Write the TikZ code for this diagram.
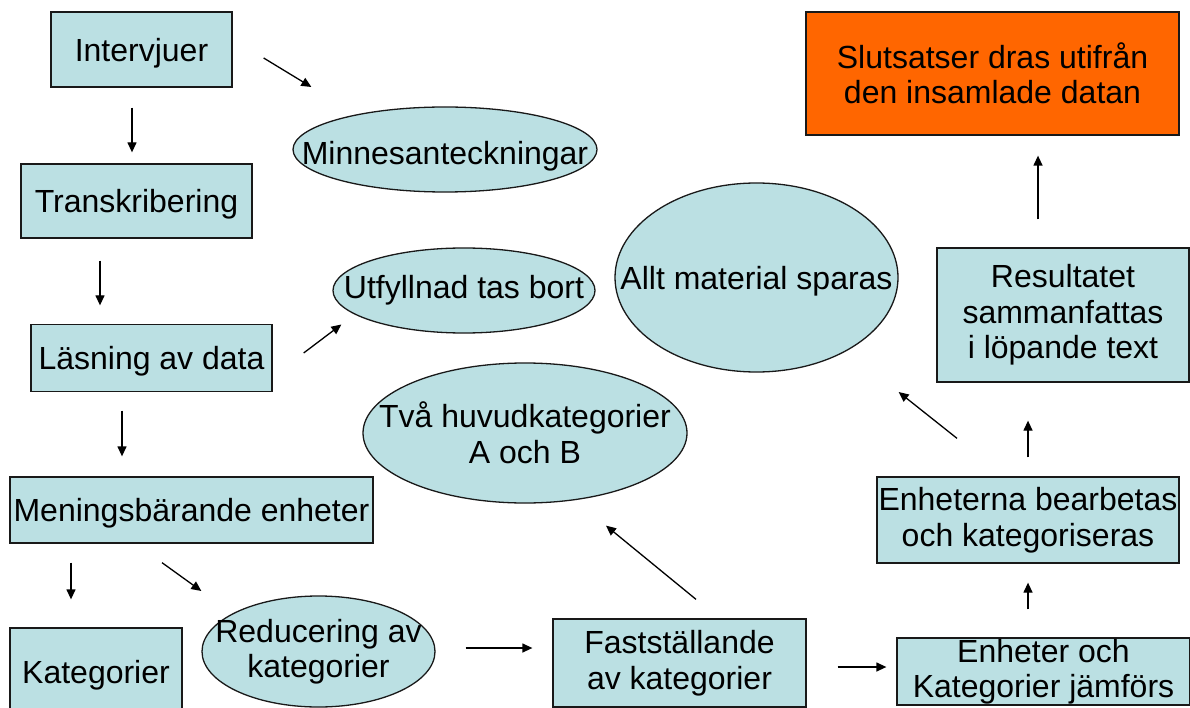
\documentclass[tikz,border=0pt]{standalone}
\usepackage{fontspec}
\setmainfont{Liberation Sans}
\usetikzlibrary{arrows.meta,shapes,calc}

\definecolor{boxblue}{RGB}{187,224,227}
\definecolor{boxorange}{RGB}{255,102,0}

\tikzset{
  box/.style={draw=black!90, fill=boxblue, rectangle, inner sep=0pt, align=center, line width=1.3pt},
  blob/.style={draw=black!90, fill=boxblue, ellipse, inner sep=0pt, align=center, line width=1.3pt},
  flat/.style={text depth=0pt},
  arr/.style={-{Triangle[length=10pt,width=9pt]}, line width=1.3pt},
}

\begin{document}
\begin{tikzpicture}[x=1pt, y=-1pt, font=\fontsize{32}{35.5}\selectfont]
    \useasboundingbox (0,0) rectangle (1190,708);

    % Left column
    \node[box, flat, minimum width=181, minimum height=75] (intv) at (141.5,49.5) {Intervjuer};
    \node[box, flat, minimum width=231, minimum height=74] (trans) at (136.5,201) {Transkribering};
    \node[box, flat, minimum width=241, minimum height=67] (les) at (151.5,358) {Läsning av data};
    \node[box, flat, minimum width=363, minimum height=66] (men) at (191.5,510) {Meningsbärande enheter};
    \node[box, flat, minimum width=172, minimum height=88] (kat) at (96,672) {Kategorier};

    % Ellipses
    \node[blob, text height=37pt, minimum width=304, minimum height=85] (minne) at (445,149.5) {\makebox[0pt]{Minnesanteckningar}};
    \node[blob, minimum width=262, minimum height=85] (utf) at (464,290.5) {\makebox[0pt]{Utfyllnad tas bort}};
    \node[blob, flat, minimum width=283, minimum height=189] (allt) at (756.5,277.5) {\makebox[0pt]{Allt material sparas}};
    \node[blob, minimum width=324, minimum height=140] (tva) at (525,433) {\makebox[0pt]{Två huvudkategorier}\\\makebox[0pt]{A och B}};
    \node[blob, minimum width=233, minimum height=111] (red) at (318.5,651.5) {\makebox[0pt]{Reducering av}\\\makebox[0pt]{kategorier}};

    % Right side
    \node[box, minimum width=253, minimum height=88] (fast) at (679.5,663) {Fastställande\\av kategorier};
    \node[box, minimum width=293, minimum height=67] (jamf) at (1043.5,671.5) {Enheter och\\Kategorier jämförs};
    \node[box, minimum width=302, minimum height=86] (bearb) at (1028,520) {Enheterna bearbetas\\och kategoriseras};
    \node[box, minimum width=252, minimum height=134] (res) at (1063,315) {Resultatet\\sammanfattas\\i löpande text};
    \node[box, fill=boxorange, minimum width=373, minimum height=123] (slut) at (992.5,73.5) {Slutsatser dras utifrån\\den insamlade datan};

    % Arrows
    \draw[arr] ($(intv.east)+(31,8.5)$) -- ($(minne.west)+(19,-62.5)$);
    \draw[arr] ($(intv.south)+(-9.5,20)$) -- ($(trans.north)+(-4.5,-11)$);
    \draw[arr] ($(trans.south)+(-36.5,22)$) -- ($(les.north)+(-51.5,-18.5)$);
    \draw[arr] ($(les.east)+(31,-5)$) -- ($(utf.west)+(9,34)$);
    \draw[arr] ($(les.south)+(-29.5,18.5)$) -- ($(men.north)+(-69.5,-20)$);
    \draw[arr] ($(men.south)+(-120.5,19)$) -- ($(kat.north)+(-25,-28)$);
    \draw[arr] ($(men.south)+(-29.5,19)$) -- ($(red.west)+(0,-60.5)$);
    \draw[arr] ($(red.east)+(30,-3.5)$) -- ($(fast.west)+(-20,-15)$);
    \draw[arr] ($(fast.north)+(16.5,-19)$) -- ($(tva.south)+(81,22)$);
    \draw[arr] ($(fast.east)+(31,4)$) -- ($(jamf.west)+(-10,-4.5)$);
    \draw[arr] ($(jamf.north)+(-15.5,-28)$) -- ($(bearb.south)+(0,19)$);
    \draw[arr] ($(bearb.north)+(0,-19)$) -- ($(res.south)+(-35,38)$);
    \draw[arr] ($(bearb.north)+(-71,-38)$) -- ($(allt.east)+(0,114.5)$);
    \draw[arr] ($(res.north)+(-25,-28)$) -- ($(slut.south)+(45.5,20)$);
\end{tikzpicture}
\end{document}
